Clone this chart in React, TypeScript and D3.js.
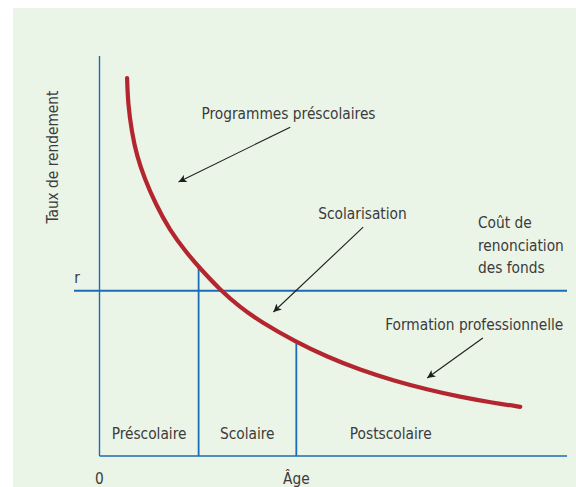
import React from "react";
import * as d3 from "d3";

// ---- data ----
const curveAge = [5.9, 6.1, 6.9, 8.0, 9.6, 12.0, 15.0, 18.5, 21.2, 25.9, 30.0, 34.4, 41.9, 48.7, 55.8, 62.8, 70.1, 77.1, 84.2, 90.0];
const curveRate = [94.5, 88.0, 81.0, 75.0, 69.5, 63.0, 56.5, 51.0, 47.3, 41.4, 37.3, 33.6, 28.6, 24.8, 21.5, 18.9, 16.6, 14.8, 13.3, 12.3];
const rRate = 41.3;
const stageBounds = [21.2, 42.1];
const stageLabels = ["Préscolaire", "Scolaire", "Postscolaire"];
const stageLabelAge = [10.6, 31.6, 62.3];
const annotationTexts = ["Programmes préscolaires", "Scolarisation", "Formation professionnelle"];
const annotationAge = [21.8, 46.8, 61.1];
const annotationRate = [84.2, 59.2, 31.5];
const arrowFrom = [[40.8, 82.2], [56.4, 57.2], [82.0, 29.5]];
const arrowTo = [[16.9, 68.5], [37.2, 36.0], [70.1, 19.5]];
const costLines = ["Coût de", "renonciation", "des fonds"];
const xTickLabels = ["0", "Âge"];
const xTickAge = [0, 42.1];
const yLabel = "Taux de rendement";

const W = 576;
const H = 487;
const FONT = "'DejaVu Sans Condensed', 'Liberation Sans Narrow', sans-serif";
const TXT = "#3b3b3b";
const BLUE = "#1a6db6";
const RED = "#b3262f";

export default function App() {
  const x = d3.scaleLinear().domain([0, 100]).range([99.5, 567]);
  const y = d3.scaleLinear().domain([0, 100]).range([456, 56]);

  const pts: [number, number][] = curveAge.map((a, i) => [a, curveRate[i]]);
  const line = d3
    .line<[number, number]>()
    .x((d) => x(d[0]))
    .y((d) => y(d[1]))
    .curve(d3.curveBasis);

  const fs = 15.3;
  const yi = d3.scaleLinear().domain(curveAge).range(curveRate);

  return (
    <svg
      width={W}
      height={H}
      style={{ position: "absolute", left: 0, top: 0, display: "block" }}
      fontFamily={FONT}
    >
      <defs>
        <marker id="ah" viewBox="0 0 10 10" refX="10" refY="5" markerWidth="11" markerHeight="8" markerUnits="userSpaceOnUse" orient="auto">
          <path d="M0,0 L10,5 L0,10 L2.5,5 Z" fill="#1e1e1e" />
        </marker>
      </defs>
      <rect x={0} y={0} width={W} height={H} fill="#ffffff" />
      <rect x={13} y={8} width={W - 13} height={H - 8} fill="#eaf4e7" />

      {/* axes */}
      <line x1={x(0)} x2={x(0)} y1={y(100)} y2={y(0)} stroke={BLUE} strokeWidth={1.4} />
      <line x1={x(0)} x2={x(100)} y1={y(0)} y2={y(0)} stroke={BLUE} strokeWidth={1.6} />

      {/* r line */}
      <line x1={74} x2={x(100)} y1={y(rRate)} y2={y(rRate)} stroke={BLUE} strokeWidth={2} />
      <text x={80} y={y(rRate) - 8} textAnchor="end" fontSize={fs} fill={TXT}>r</text>

      {/* stage dividers */}
      {stageBounds.map((a, i) => (
        <line key={i} x1={x(a)} x2={x(a)} y1={y(yi(a))} y2={y(0)} stroke={BLUE} strokeWidth={1.8} />
      ))}

      {/* curve */}
      <path d={line(pts) || ""} fill="none" stroke={RED} strokeWidth={4.2} strokeLinecap="round" />

      {/* stage labels */}
      {stageLabels.map((s, i) => (
        <text key={s} x={x(stageLabelAge[i])} y={439} textAnchor="middle" fontSize={fs} fill={TXT}>
          {s}
        </text>
      ))}

      {/* x labels */}
      {xTickLabels.map((s, i) => (
        <text key={s} x={x(xTickAge[i])} y={484} textAnchor="middle" fontSize={fs} fill={TXT}>
          {s}
        </text>
      ))}

      {/* y label */}
      <text transform={`translate(58,157) rotate(-90)`} textAnchor="middle" fontSize={fs} fill={TXT}>
        {yLabel}
      </text>

      {/* annotations */}
      {annotationTexts.map((s, i) => (
        <text key={s} x={x(annotationAge[i])} y={y(annotationRate[i])} fontSize={fs} fill={TXT}>
          {s}
        </text>
      ))}
      {arrowFrom.map((f, i) => (
        <line
          key={i}
          x1={x(f[0])}
          y1={y(f[1])}
          x2={x(arrowTo[i][0])}
          y2={y(arrowTo[i][1])}
          stroke="#1e1e1e"
          strokeWidth={1.1}
          markerEnd="url(#ah)"
        />
      ))}

      {/* cost of funds */}
      {costLines.map((s, i) => (
        <text key={s} x={478} y={228 + i * 22.5} fontSize={fs} fill={TXT}>
          {s}
        </text>
      ))}
    </svg>
  );
}
